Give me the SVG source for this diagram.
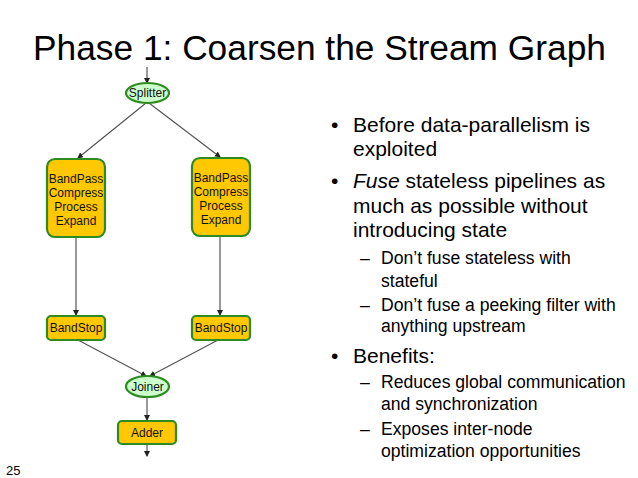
<svg xmlns="http://www.w3.org/2000/svg" width="638" height="478" viewBox="0 0 638 478">
<defs>
<marker id="ah" markerWidth="6" markerHeight="6" refX="5" refY="3" orient="auto" markerUnits="userSpaceOnUse">
<path d="M0,0 L6,3 L0,6 Z" fill="#222"/>
</marker>
<style>
.box{fill:#FFC800;stroke:#2E8B22;stroke-width:2.2}
.ell{fill:#CCFFCC;stroke:#2E8B22;stroke-width:2.2}
.nt{font-family:"Liberation Sans",Arial,sans-serif;font-size:12px;fill:#111;text-anchor:middle}
.cn{stroke:#555;stroke-width:1.2;fill:none;marker-end:url(#ah)}
.b1{font-family:"Liberation Sans",Arial,sans-serif;font-size:21px;fill:#000}
.b2{font-family:"Liberation Sans",Arial,sans-serif;font-size:17.6px;fill:#000}
</style>
</defs>
<rect width="638" height="478" fill="#fff"/>
<text x="33" y="60" font-family="'Liberation Sans',Arial,sans-serif" font-size="35.3" fill="#000">Phase 1: Coarsen the Stream Graph</text>

<g id="connectors">
<line class="cn" x1="147" y1="67" x2="147" y2="83"/>
<line class="cn" x1="146" y1="103" x2="78" y2="158"/>
<line class="cn" x1="149" y1="103" x2="220" y2="157"/>
<line class="cn" x1="76" y1="237" x2="76" y2="315"/>
<line class="cn" x1="220" y1="236" x2="220" y2="315"/>
<line class="cn" x1="78" y1="340" x2="146" y2="376"/>
<line class="cn" x1="218" y1="340" x2="150" y2="376"/>
<line class="cn" x1="147" y1="397" x2="147" y2="420"/>
<line class="cn" x1="147" y1="445" x2="147" y2="456"/>
</g>

<g id="splitter">
<ellipse class="ell" cx="147.5" cy="93" rx="21.5" ry="10"/>
<text class="nt" x="147.5" y="97" font-size="10.5">Splitter</text>
</g>
<g id="bandpass-left">
<rect class="box" x="47" y="159" width="58" height="78" rx="8"/>
<text class="nt" x="76" y="183">BandPass</text>
<text class="nt" x="76" y="197">Compress</text>
<text class="nt" x="76" y="211">Process</text>
<text class="nt" x="76" y="225">Expand</text>
</g>
<g id="bandpass-right">
<rect class="box" x="192" y="158" width="58" height="78" rx="8"/>
<text class="nt" x="221" y="182">BandPass</text>
<text class="nt" x="221" y="196">Compress</text>
<text class="nt" x="221" y="210">Process</text>
<text class="nt" x="221" y="224">Expand</text>
</g>
<g id="bandstop-left">
<rect class="box" x="47" y="316" width="58" height="24" rx="4"/>
<text class="nt" x="76" y="332">BandStop</text>
</g>
<g id="bandstop-right">
<rect class="box" x="192" y="316" width="58" height="24" rx="4"/>
<text class="nt" x="221" y="332">BandStop</text>
</g>
<g id="joiner">
<ellipse class="ell" cx="147.5" cy="386.5" rx="21.5" ry="10.5"/>
<text class="nt" x="147.5" y="390.5" font-size="10.5">Joiner</text>
</g>
<g id="adder">
<rect class="box" x="118" y="421" width="58" height="23" rx="4"/>
<text class="nt" x="147" y="437">Adder</text>
</g>

<text x="6" y="475" font-family="'Liberation Sans',Arial,sans-serif" font-size="13" fill="#000">25</text>

<g id="bullets">
<text class="b1" x="331" y="132">•</text>
<text class="b1" x="353" y="132">Before data-parallelism is</text>
<text class="b1" x="353" y="156">exploited</text>
<text class="b1" x="331" y="188">•</text>
<text class="b1" x="353" y="188"><tspan font-style="italic">Fuse</tspan> stateless pipelines as</text>
<text class="b1" x="353" y="213">much as possible without</text>
<text class="b1" x="353" y="237">introducing state</text>
<text class="b2" x="360" y="264">–</text>
<text class="b2" x="381" y="264">Don’t fuse stateless with</text>
<text class="b2" x="381" y="287">stateful</text>
<text class="b2" x="360" y="311">–</text>
<text class="b2" x="381" y="311">Don’t fuse a peeking filter with</text>
<text class="b2" x="381" y="332">anything upstream</text>
<text class="b1" x="331" y="363">•</text>
<text class="b1" x="353" y="363">Benefits:</text>
<text class="b2" x="360" y="388">–</text>
<text class="b2" x="381" y="388">Reduces global communication</text>
<text class="b2" x="381" y="410">and synchronization</text>
<text class="b2" x="360" y="435">–</text>
<text class="b2" x="381" y="435">Exposes inter-node</text>
<text class="b2" x="381" y="457">optimization opportunities</text>
</g>
</svg>
